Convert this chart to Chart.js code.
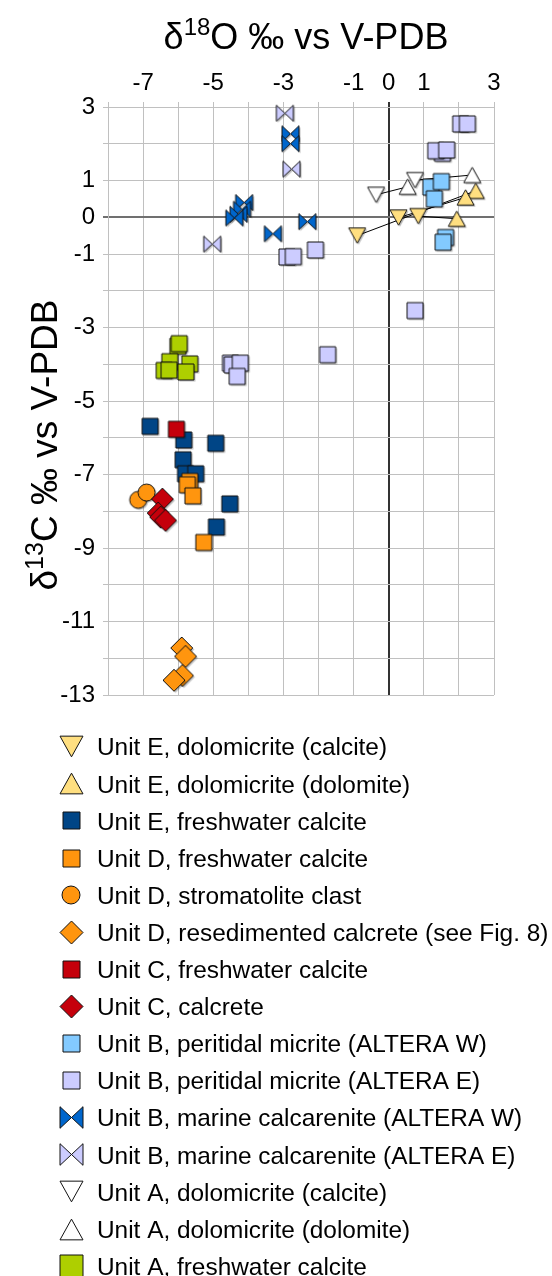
<!DOCTYPE html>
<html lang="en">
<head>
<meta charset="UTF-8">
<title>δ13C vs δ18O</title>
<script src="https://cdn.jsdelivr.net/npm/chart.js"></script>
<style>
  html, body { margin: 0; padding: 0; background: #fff; }
</style>
</head>
<body>
<canvas id="chart" width="552" height="1276"></canvas>
<script>
// axes: gridlines every unit, labels on odd values and zero
const xGridValues = [-8, -7, -6, -5, -4, -3, -2, -1, 0, 1, 2, 3];
const xTickLabels = ['-7', '-5', '-3', '-1', '0', '1', '3'];
const yGridValues = [3, 2, 1, 0, -1, -2, -3, -4, -5, -6, -7, -8, -9, -10, -11, -12, -13];
const yTickLabels = ['3', '1', '0', '-1', '-3', '-5', '-7', '-9', '-11', '-13'];

// [δ18O, δ13C] pairs
const unitE_dolCalcite = [[-0.9, -0.5], [0.28, -0.01], [0.84, 0.03]];
const unitE_dolDolomite = [[2.48, 0.72], [2.19, 0.54], [1.94, -0.04]];
const unitE_fresh = [[-6.8, -5.69], [-5.84, -6.06], [-4.93, -6.15], [-5.86, -6.6], [-5.79, -6.98], [-5.5, -6.98], [-4.53, -7.8], [-4.91, -8.43]];
const unitD_fresh = [[-5.67, -7.19], [-5.74, -7.28], [-5.58, -7.58], [-5.27, -8.85]];
const unitD_stromatolite = [[-7.14, -7.69], [-6.9, -7.49]];
const unitD_calcrete = [[-5.9, -11.72], [-5.79, -11.95], [-5.88, -12.47], [-6.12, -12.6]];
const unitC_fresh = [[-6.05, -5.77]];
const unitC_calcrete = [[-6.45, -7.67], [-6.57, -8.05], [-6.5, -8.16], [-6.36, -8.25]];
const unitB_peritidalW = [[1.2, 0.82], [1.5, 0.97], [1.3, 0.5], [1.62, -0.55], [1.55, -0.68]];
const unitB_peritidalE = [[2.05, 2.54], [2.24, 2.54], [1.53, 1.74], [1.34, 1.81], [1.65, 1.83], [0.75, -2.54],
  [-2.9, -1.08], [-2.72, -1.07], [-2.09, -0.89], [-1.74, -3.74], [-4.51, -3.97], [-4.46, -4.02], [-4.23, -3.97], [-4.32, -4.33]];
const unitB_marineW = [[-2.8, 2.27], [-2.8, 2.0], [-4.12, 0.4], [-4.18, 0.22], [-4.28, 0.08], [-4.4, -0.02], [-3.3, -0.45], [-2.32, -0.12]];
const unitB_marineE = [[-2.96, 2.83], [-2.77, 1.31], [-5.03, -0.73]];
const unitA_dolCalcite = [[-0.36, 0.61], [0.75, 1.01]];
const unitA_dolDolomite = [[0.54, 0.83], [2.38, 1.15]];
const unitA_fresh = [[-6.01, -3.51], [-5.97, -3.44], [-6.24, -3.93], [-5.67, -3.99], [-6.4, -4.17], [-6.26, -4.16], [-5.78, -4.21]];

const seriesLabels = [
  'Unit E, dolomicrite (calcite)',
  'Unit E, dolomicrite (dolomite)',
  'Unit E, freshwater calcite',
  'Unit D, freshwater calcite',
  'Unit D, stromatolite clast',
  'Unit D, resedimented calcrete (see Fig. 8)',
  'Unit C, freshwater calcite',
  'Unit C, calcrete',
  'Unit B, peritidal micrite (ALTERA W)',
  'Unit B, peritidal micrite (ALTERA E)',
  'Unit B, marine calcarenite (ALTERA W)',
  'Unit B, marine calcarenite (ALTERA E)',
  'Unit A, dolomicrite (calcite)',
  'Unit A, dolomicrite (dolomite)',
  'Unit A, freshwater calcite'
];
const seriesData = [unitE_dolCalcite, unitE_dolDolomite, unitE_fresh, unitD_fresh, unitD_stromatolite,
  unitD_calcrete, unitC_fresh, unitC_calcrete, unitB_peritidalW, unitB_peritidalE, unitB_marineW,
  unitB_marineE, unitA_dolCalcite, unitA_dolDolomite, unitA_fresh];
// calcite / dolomite of the same sample are joined by a thin line
const tiePairs = [[unitE_dolCalcite, unitE_dolDolomite], [unitA_dolCalcite, unitA_dolDolomite]];

// styles
const seriesShapes = ['triDown', 'triUp', 'square', 'square', 'circle', 'diamond', 'square', 'diamond',
  'square', 'square', 'bowtie', 'bowtie', 'triDown', 'triUp', 'square'];
const seriesColors = ['#ffdf80', '#ffdf80', '#004586', '#ff950e', '#ff950e', '#ff950e', '#c5000b', '#c5000b',
  '#83caff', '#ccccff', '#0066cc', '#ccccff', '#ffffff', '#ffffff', '#aecf00'];
const plotSize = { square: 16, circle: 17, diamond: 22, triUp: 17, triDown: 17, bowtie: 17 };
const legendSize = { square: 17, circle: 18, diamond: 23, triUp: 23, triDown: 23, bowtie: 23 };

const FONT = '"Liberation Sans", Arial, sans-serif';

function shapePath(g, shape, cx, cy, w) {
  const h = w / 2;
  g.beginPath();
  if (shape === 'square') {
    g.rect(cx - h, cy - h, w, w);
  } else if (shape === 'circle') {
    g.arc(cx, cy, h, 0, Math.PI * 2);
  } else if (shape === 'diamond') {
    g.moveTo(cx, cy - h); g.lineTo(cx + h, cy); g.lineTo(cx, cy + h); g.lineTo(cx - h, cy); g.closePath();
  } else if (shape === 'triUp') {
    const t = w * 0.45;
    g.moveTo(cx, cy - t); g.lineTo(cx + h, cy + t); g.lineTo(cx - h, cy + t); g.closePath();
  } else if (shape === 'triDown') {
    const t = w * 0.45;
    g.moveTo(cx - h, cy - t); g.lineTo(cx + h, cy - t); g.lineTo(cx, cy + t); g.closePath();
  } else if (shape === 'bowtie') {
    const t = w * 0.47;
    g.moveTo(cx - h, cy - t); g.lineTo(cx, cy); g.lineTo(cx - h, cy + t); g.closePath();
    g.moveTo(cx + h, cy - t); g.lineTo(cx, cy); g.lineTo(cx + h, cy + t); g.closePath();
  }
}

function makeMarker(shape, color, w, shadow) {
  const c = document.createElement('canvas');
  const n = Math.ceil(w) + 6;
  c.width = n; c.height = n;
  const g = c.getContext('2d');
  const m = n / 2;
  if (shadow) {
    g.fillStyle = 'rgba(0,0,0,0.25)';
    shapePath(g, shape, m + 1.5, m + 1.5, w);
    g.fill();
  }
  shapePath(g, shape, m, m, w);
  g.fillStyle = color;
  g.fill();
  g.lineWidth = 1;
  g.strokeStyle = '#111';
  g.stroke();
  return c;
}

const plotMarkers = seriesShapes.map((s, i) => makeMarker(s, seriesColors[i], plotSize[s], true));
const legendMarkers = seriesShapes.map((s, i) =>
  makeMarker(s, seriesColors[i], i === 14 ? 23 : legendSize[s], false));

const toPoints = arr => arr.map(p => ({ x: p[0], y: p[1] }));

const datasets = seriesData.map((d, i) => ({
  label: seriesLabels[i],
  data: toPoints(d),
  pointStyle: plotMarkers[i],
  pointRadius: 8,
  clip: false,
  order: 100 - i
}));
tiePairs.forEach(pair => {
  pair[0].forEach((p, k) => {
    datasets.push({
      label: 'tie',
      data: toPoints([p, pair[1][k]]),
      showLine: true,
      borderColor: '#000',
      borderWidth: 1,
      pointRadius: 0,
      order: 200
    });
  });
});

function drawSupText(g, a, sup, b, cx, baseY, size, supSize, rise) {
  const big = size + 'px ' + FONT;
  const small = supSize + 'px ' + FONT;
  g.font = big;
  const wa = g.measureText(a).width, wb = g.measureText(b).width;
  g.font = small;
  const ws = g.measureText(sup).width;
  let x = cx - (wa + ws + wb) / 2;
  g.font = big; g.fillText(a, x, baseY); x += wa;
  g.font = small; g.fillText(sup, x, baseY - rise); x += ws;
  g.font = big; g.fillText(b, x, baseY);
}

const titlesPlugin = {
  id: 'axisTitles',
  afterDraw(chart) {
    const g = chart.ctx;
    g.save();
    g.fillStyle = '#000';
    g.textAlign = 'left';
    g.textBaseline = 'alphabetic';
    drawSupText(g, 'δ', '18', 'O ‰ vs V-PDB', 306, 49, 36, 24, 14);
    g.translate(57, 445);
    g.rotate(-Math.PI / 2);
    drawSupText(g, 'δ', '13', 'C ‰ vs V-PDB', 0, 0, 37, 25, 14);
    g.restore();
  }
};

const listLegend = {
  id: 'listLegend',
  afterDraw(chart) {
    const g = chart.ctx;
    g.save();
    g.font = '24.4px ' + FONT;
    g.fillStyle = '#000';
    g.textAlign = 'left';
    g.textBaseline = 'alphabetic';
    seriesLabels.forEach((label, i) => {
      const cy = 746.7 + 37.1 * i;
      const img = legendMarkers[i];
      g.drawImage(img, Math.round(71 - img.width / 2), Math.round(cy - img.height / 2));
      g.fillText(label, 97, cy + 8.7);
    });
    g.restore();
  }
};

const gridColor = '#c0c0c0';

new Chart(document.getElementById('chart'), {
  type: 'scatter',
  data: { datasets },
  options: {
    responsive: false,
    devicePixelRatio: 1,
    animation: false,
    events: [],
    layout: { padding: { left: 0, top: 0, right: 58, bottom: 581 } },
    plugins: { legend: { display: false }, tooltip: { enabled: false } },
    scales: {
      x: {
        type: 'linear',
        position: 'top',
        min: -8,
        max: 3,
        afterBuildTicks: s => { s.ticks = xGridValues.map(v => ({ value: v })); },
        afterFit: s => { s.height = 107; },
        ticks: {
          autoSkip: false,
          maxRotation: 0,
          padding: 4,
          color: '#000',
          font: { family: FONT, size: 24 },
          callback: v => xTickLabels.includes(String(v)) ? String(v) : ''
        },
        grid: {
          tickLength: 5,
          color: c => (c.tick && c.tick.value === 0) ? '#333333' : gridColor,
          lineWidth: c => (c.tick && c.tick.value === 0) ? 2 : 1
        },
        border: { color: gridColor }
      },
      y: {
        type: 'linear',
        position: 'left',
        min: -13,
        max: 3,
        afterBuildTicks: s => { s.ticks = yGridValues.map(v => ({ value: v })); },
        afterFit: s => { s.width = 108; },
        ticks: {
          autoSkip: false,
          padding: 8,
          color: '#000',
          font: { family: FONT, size: 24 },
          callback: v => yTickLabels.includes(String(v)) ? String(v) : ''
        },
        grid: {
          tickLength: 5,
          color: c => (c.tick && c.tick.value === 0) ? '#707070' : gridColor,
          lineWidth: c => (c.tick && c.tick.value === 0) ? 2 : 1
        },
        border: { color: gridColor }
      }
    }
  },
  plugins: [titlesPlugin, listLegend]
});
</script>
</body>
</html>
